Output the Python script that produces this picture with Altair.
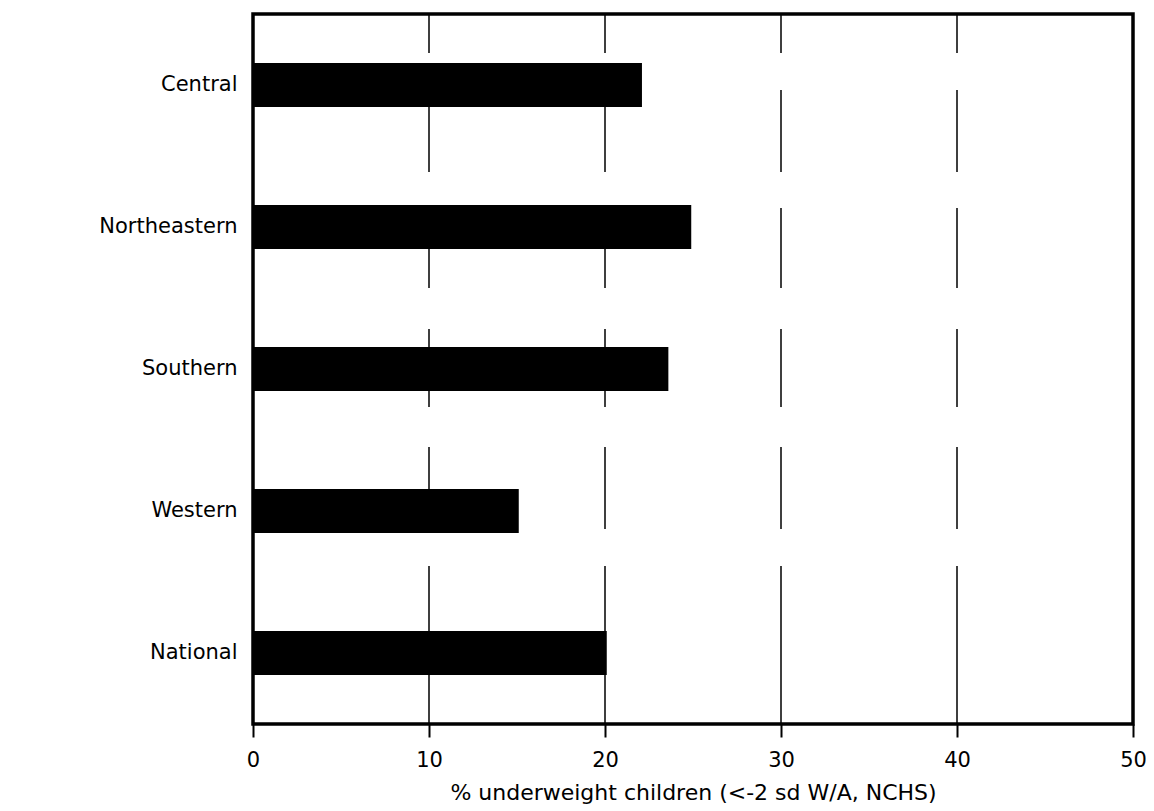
import altair as alt
import pandas as pd

regions = ["Central", "Northeastern", "Southern", "Western", "National"]
underweight = [22.1, 24.9, 23.6, 15.1, 20.1]
x_ticks = [0, 10, 20, 30, 40, 50]
grid_values = [10, 20, 30, 40]
x_title = "% underweight children (<-2 sd W/A, NCHS)"

df = pd.DataFrame({"region": regions, "pct": underweight})
grid_df = pd.DataFrame({"v": grid_values})

FONT = "DejaVu Sans"
x_scale = alt.Scale(domain=[0, 50], nice=False, zero=True)
x_axis = alt.Axis(
    values=x_ticks, title=x_title, grid=False, domain=False,
    ticks=True, tickSize=13, tickWidth=2, tickColor="black",
    labelFont=FONT, labelFontSize=21, labelColor="black",
    labelPadding=12, labelFlush=False,
    titleFont=FONT, titleFontSize=22, titleFontWeight="normal",
    titleColor="black", titlePadding=12,
)

grid = alt.Chart(grid_df).mark_rule(
    color="black", strokeWidth=1.5,
    strokeDash=[39, 37, 82, 36, 80, 41, 78, 40, 82, 37, 170],
).encode(x=alt.X("v:Q", scale=x_scale, axis=x_axis, title=x_title))

bars = alt.Chart(df).mark_bar(color="black").encode(
    x=alt.X("pct:Q", scale=x_scale, axis=x_axis, title=x_title),
    y=alt.Y(
        "region:N",
        sort=regions,
        scale=alt.Scale(paddingInner=0.69, paddingOuter=0.345),
        axis=alt.Axis(
            title=None, ticks=False, domain=False, grid=False,
            labelFont=FONT, labelFontSize=21, labelColor="black",
            labelPadding=16,
        ),
    ),
)

chart = alt.layer(grid, bars).properties(
    width=880,
    height=710,
    autosize=alt.AutoSizeParams(type="none"),
    padding={"left": 245, "top": 6, "right": 13, "bottom": 85},
).configure_view(stroke="black", strokeWidth=3.5)

chart.save("out.html", embed_options={"renderer": "svg", "actions": False})
